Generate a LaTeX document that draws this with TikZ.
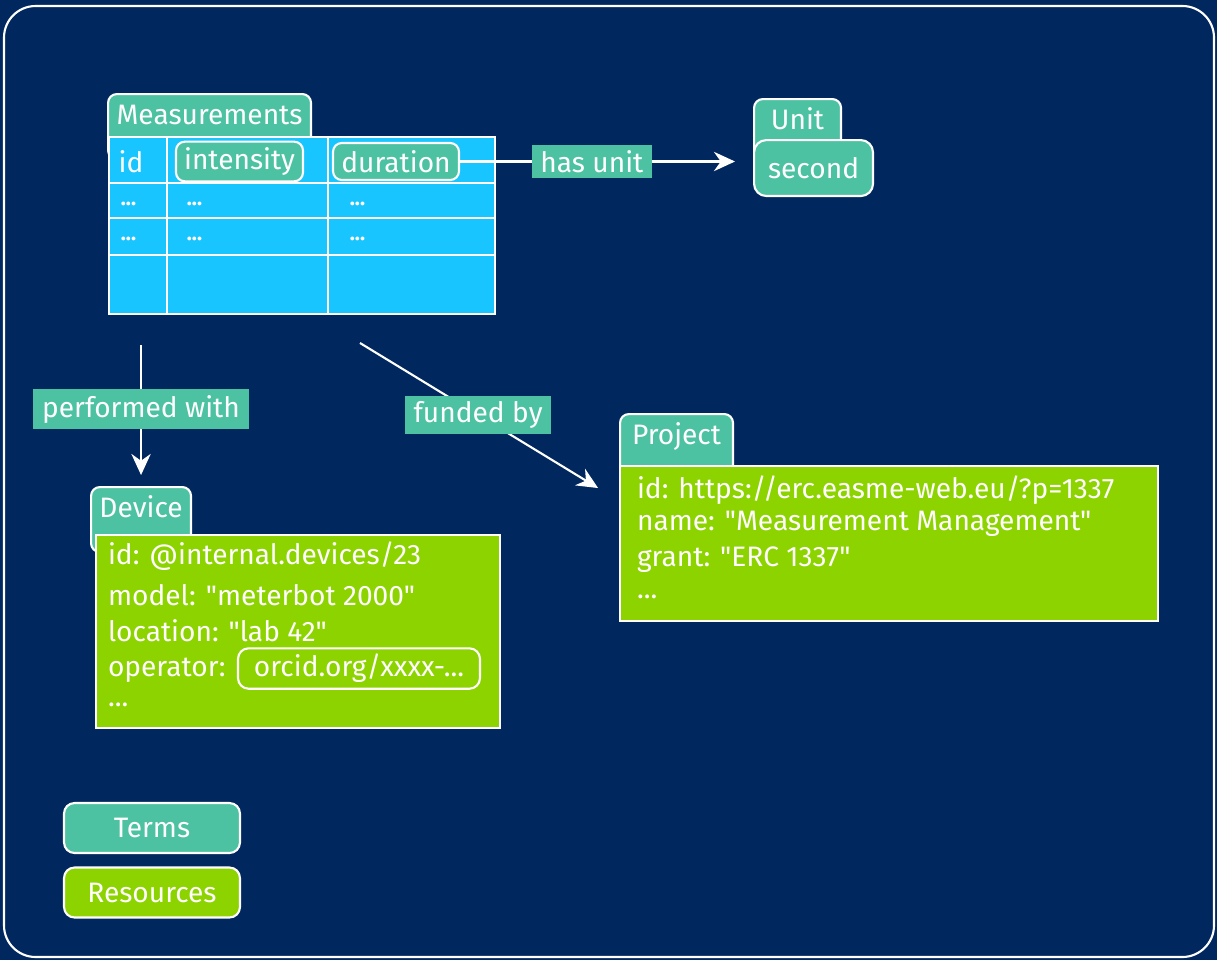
\documentclass[tikz,border=0pt]{standalone}
\usepackage{fontspec}
\setmainfont{Fira Sans}[Ligatures=TeXOff]
\usepackage{tikz}
\usetikzlibrary{arrows,arrows.meta,positioning}

\definecolor{navy}{HTML}{00285F}
\definecolor{termteal}{HTML}{4DC2A2}
\definecolor{tblblue}{HTML}{18C5FF}
\definecolor{resgreen}{HTML}{8DD300}

\begin{document}
\begin{tikzpicture}[x=0.02cm,y=-0.02cm,>={Stealth[length=12pt,width=11pt]},line width=1.2pt,
    every node/.style={text=white,font=\fontsize{16}{19}\selectfont},
    tabbox/.style={draw=white,fill=termteal,rounded corners=5pt,anchor=north west,
      inner ysep=0pt,inner xsep=3pt,text height=0.6cm,text depth=0.7cm},
    termbox/.style={draw=white,fill=termteal,rounded corners=5pt},
    resbox/.style={draw=white,fill=resgreen},
    tblbox/.style={draw=white,fill=tblblue,anchor=north west},
    edgelbl/.style={fill=termteal,inner xsep=5pt,minimum height=0.62cm},
    rowdots/.style={anchor=west,font=\fontsize{12}{13}\selectfont\bfseries},
    line/.style={anchor=west,inner sep=0pt}]
  % background and frame
  \useasboundingbox[fill=navy] (0,0) rectangle (1217,960);
  \draw[white,rounded corners=18pt] (4,6) rectangle (1214,957);

  % measurements table
  \node[tabbox,minimum width=4.06cm] (meastab) at (107,93) {Measurements};
  \node[tblbox,minimum width=7.72cm,minimum height=3.54cm] (meas) at (108,136) {};
  \draw[white] (167,136) -- (167,313) (328,136) -- (328,313);
  \draw[white] (108,183) -- (494,183) (108,218) -- (494,218) (108,255) -- (494,255);
  \node (colid) at (131,162) {id};
  \node[termbox,minimum width=2.54cm,minimum height=0.74cm] (colint) at (239.5,161.5) {intensity};
  \node[termbox,minimum width=2.52cm,minimum height=0.74cm] (coldur) at (396,161.5) {duration};
  \foreach \r/\y in {1/204,2/239} {
    \node[rowdots] (dotid\r) at (114,\y) {...};
    \node[rowdots] (dotint\r) at (180,\y) {...};
    \node[rowdots] (dotdur\r) at (343,\y) {...};
  }

  % unit
  \node[tabbox,minimum width=1.74cm] (unittab) at (753,98) {Unit};
  \node[termbox,anchor=north west,minimum width=2.38cm,minimum height=1.12cm,rounded corners=7pt] (unit) at (753,139) {second};

  % device
  \node[tabbox,minimum width=2cm] (devtab) at (90,486) {Device};
  \node[resbox,anchor=north west,minimum width=8.08cm,minimum height=3.86cm] (dev) at (95,534) {};
  \node[line] (devid) at (107,556) {id: @internal.devices/23};
  \node[line] (devmodel) at (107,595) {model: "meterbot 2000"};
  \node[line] (devloc) at (107,631) {location: "lab 42"};
  \node[resbox,rounded corners=6pt,minimum width=4.84cm,minimum height=0.74cm] (devorcid) at (359,668.5) {orcid.org/xxxx-...};
  \node[line,anchor=base west,xshift=0.24cm] (devop) at (devorcid.base -| dev.west) {operator:};
  \node[line] (devmore) at (107,705) {...};

  % project
  \node[tabbox,minimum width=2.26cm] (projtab) at (619,413) {Project};
  \node[resbox,anchor=north west,minimum width=10.76cm,minimum height=3.1cm] (proj) at (619,465) {};
  \node[line] (projid) at (636,490) {id: https://erc.easme-web.eu/?p=1337};
  \node[line] (projname) at (636,524) {name: "Measurement Management"};
  \node[line] (projgrant) at (636,560) {grant: "ERC 1337"};
  \node[line] (projmore) at (636,597) {...};

  % legend
  \node[termbox,rounded corners=6pt,minimum width=3.52cm,minimum height=1cm] (legterms) at (152,828) {Terms};
  \node[resbox,rounded corners=6pt,minimum width=3.52cm,minimum height=1cm] (legres) at (152,892.5) {Resources};

  \coordinate (fundsrc) at (360,343);

  \path[->,white]
    (coldur) edge[shorten >=0.36cm] node[edgelbl,pos=0.45] {has unit} (coldur -| unit.west)
    (devtab.north |- meas.south) edge[shorten <=0.6cm,shorten >=0.22cm] node[edgelbl,pos=0.55] {performed with} (devtab.north)
    (fundsrc) edge[shorten >=0.49cm] node[edgelbl,pos=0.456] {funded by} (proj.171);
\end{tikzpicture}
\end{document}
